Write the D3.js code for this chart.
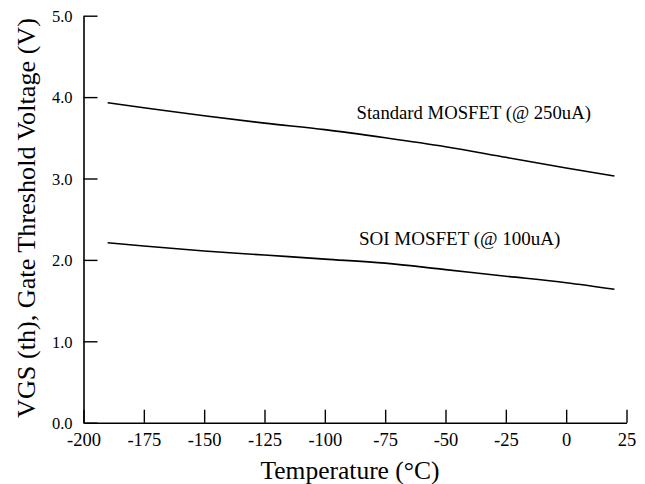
<!DOCTYPE html>
<html>
<head>
<meta charset="utf-8">
<script src="https://cdn.jsdelivr.net/npm/d3@7"></script>
<style>
html, body { margin: 0; padding: 0; background: #fff; }
svg { display: block; }
</style>
</head>
<body>
<div id="chart"></div>
<script>
// Data
const temperatures = [-190, -175, -150, -125, -100, -75, -50, -25, 0, 20];
const standardVth  = [3.93, 3.87, 3.77, 3.68, 3.60, 3.50, 3.39, 3.26, 3.13, 3.03];
const soiVth       = [2.21, 2.17, 2.11, 2.06, 2.01, 1.96, 1.88, 1.80, 1.72, 1.64];
const xTicks = [-200, -175, -150, -125, -100, -75, -50, -25, 0, 25];
const yTicks = [0, 1, 2, 3, 4, 5];
const seriesLabels = ["Standard MOSFET (@ 250uA)", "SOI MOSFET (@ 100uA)"];
const xTitle = "Temperature (°C)";
const yTitle = "VGS (th), Gate Threshold Voltage (V)";

const FONT = "'Liberation Serif', 'Times New Roman', Times, Tinos, 'DejaVu Serif', serif";

const W = 645, H = 484;
const svg = d3.select("#chart").append("svg").attr("width", W).attr("height", H);

const x = d3.scaleLinear().domain([-200, 25]).range([83.5, 626.5]);
const y = d3.scaleLinear().domain([0, 5]).range([422.7, 15.7]);

// Axes
const xAxis = d3.axisBottom(x).tickValues(xTicks).tickSizeInner(-13).tickSizeOuter(0)
  .tickFormat(d => d);
const yAxis = d3.axisLeft(y).tickValues(yTicks).tickSizeInner(-14).tickSizeOuter(0)
  .tickFormat(d3.format(".1f"));

const gx = svg.append("g").attr("transform", `translate(0,${y(0)})`).call(xAxis)
  .attr("font-family", FONT).attr("font-size", 18.5);
gx.select(".domain").attr("stroke", "#000").attr("stroke-width", 1.6);
gx.selectAll(".tick line").attr("stroke", "#000").attr("stroke-width", 1.4);
gx.selectAll(".tick text").attr("y", 23).attr("dy", 0).attr("fill", "#000");

const gy = svg.append("g").attr("transform", `translate(${x(-200)},0)`).call(yAxis)
  .attr("font-family", FONT).attr("font-size", 16.5);
gy.select(".domain").attr("stroke", "#000").attr("stroke-width", 1.6);
gy.selectAll(".tick line").attr("stroke", "#000").attr("stroke-width", 1.4);
gy.selectAll(".tick text").attr("x", -11).attr("dy", "0.35em").attr("fill", "#000");

// Lines
const line = d3.line().x(d => x(d[0])).y(d => y(d[1])).curve(d3.curveMonotoneX);
const seriesData = [
  d3.zip(temperatures, standardVth),
  d3.zip(temperatures, soiVth)
];
svg.selectAll("path.series").data(seriesData).enter().append("path")
  .attr("class", "series")
  .attr("d", line)
  .attr("fill", "none")
  .attr("stroke", "#000")
  .attr("stroke-width", 1.6);

// Series labels
svg.append("text").attr("x", 356.5).attr("y", 118.5)
  .attr("font-family", FONT).attr("font-size", 18.7).text(seriesLabels[0]);
svg.append("text").attr("x", 359).attr("y", 245)
  .attr("font-family", FONT).attr("font-size", 19).text(seriesLabels[1]);

// Axis titles
svg.append("text").attr("x", 350).attr("y", 479).attr("text-anchor", "middle")
  .attr("font-family", FONT).attr("font-size", 25.5).text(xTitle);
svg.append("text")
  .attr("transform", `translate(35,218) rotate(-90)`)
  .attr("text-anchor", "middle")
  .attr("font-family", FONT).attr("font-size", 26.2).text(yTitle);
</script>
</body>
</html>
